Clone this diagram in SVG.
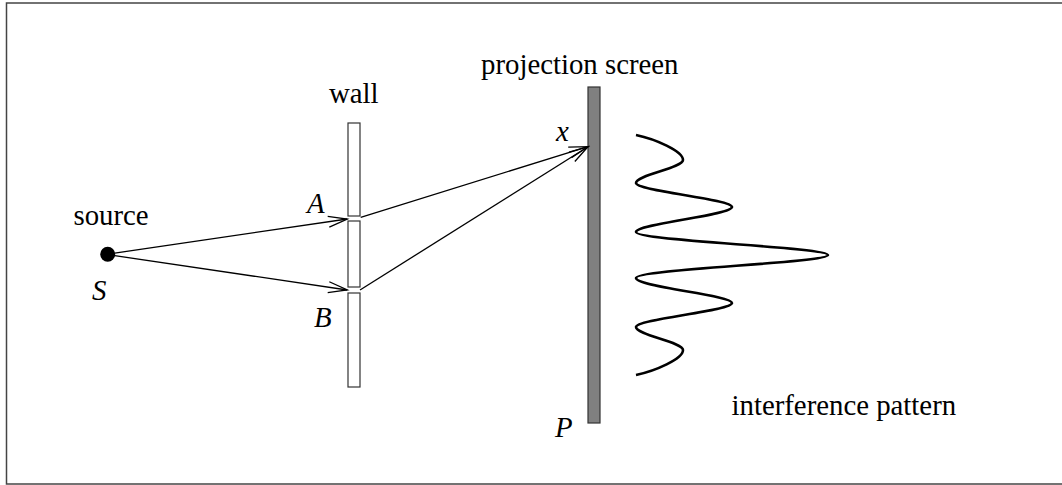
<svg xmlns="http://www.w3.org/2000/svg" width="1062" height="485" viewBox="0 0 1062 485">
<style>
text{font-family:"Liberation Serif","Times New Roman",serif;font-size:28.8px;fill:#000}
.it{font-style:italic}
.ray{stroke:#000;stroke-width:1.3;fill:none}
.wall{fill:#fff;stroke:#333;stroke-width:1.2}
</style>
<defs>
<marker id="arr" markerUnits="userSpaceOnUse" markerWidth="30" markerHeight="20" viewBox="-22 -10 24 20" refX="0" refY="0" orient="auto">
<path d="M-19,-5.5 L0,0 L-19,5.5" fill="none" stroke="#000" stroke-width="1.3"/>
</marker>
</defs>
<rect x="6.5" y="3" width="1060" height="481" fill="#fff" stroke="#444" stroke-width="1.5"/>
<g id="source">
<circle cx="107.7" cy="254.3" r="7.5" fill="#000"/>
<text x="73.5" y="225">source</text>
<text class="it" x="92" y="300">S</text>
</g>
<g id="wall">
<rect class="wall" x="348" y="123" width="12" height="93"/>
<rect class="wall" x="348" y="221" width="12" height="66"/>
<rect class="wall" x="348" y="293" width="12" height="94"/>
<text x="329" y="103">wall</text>
<text class="it" x="307" y="212.5">A</text>
<text class="it" x="314" y="326.5">B</text>
</g>
<g id="screen">
<rect x="588" y="87" width="12" height="336" fill="#808080" stroke="#333" stroke-width="1.2"/>
<text x="481" y="74">projection screen</text>
<text class="it" x="556" y="140.5">x</text>
<text class="it" x="555" y="436.5">P</text>
</g>
<g id="pattern">
<path d="M636,135 C655,139 683,151 683,160 C683,168 636,175 636,183 C636,191 732,199 732,207 C732,215 636,224 636,232 C636,241 828,247 828,255 C828,263 636,269 636,278 C636,287 732,295 732,303 C732,311 636,319 636,327 C636,335 683,342 683,350 C683,359 655,371 636,375" fill="none" stroke="#000" stroke-width="2.6"/>
<text x="731.5" y="415">interference pattern</text>
</g>
<g id="connectors">
<line class="ray" x1="113" y1="253.3" x2="347.3" y2="219" marker-end="url(#arr)"/>
<line class="ray" x1="113" y1="255.3" x2="347.3" y2="290" marker-end="url(#arr)"/>
<line class="ray" x1="360.7" y1="217.3" x2="588" y2="146.7" marker-end="url(#arr)"/>
<line class="ray" x1="360" y1="290" x2="588" y2="146.7" marker-end="url(#arr)"/>
</g>
</svg>
